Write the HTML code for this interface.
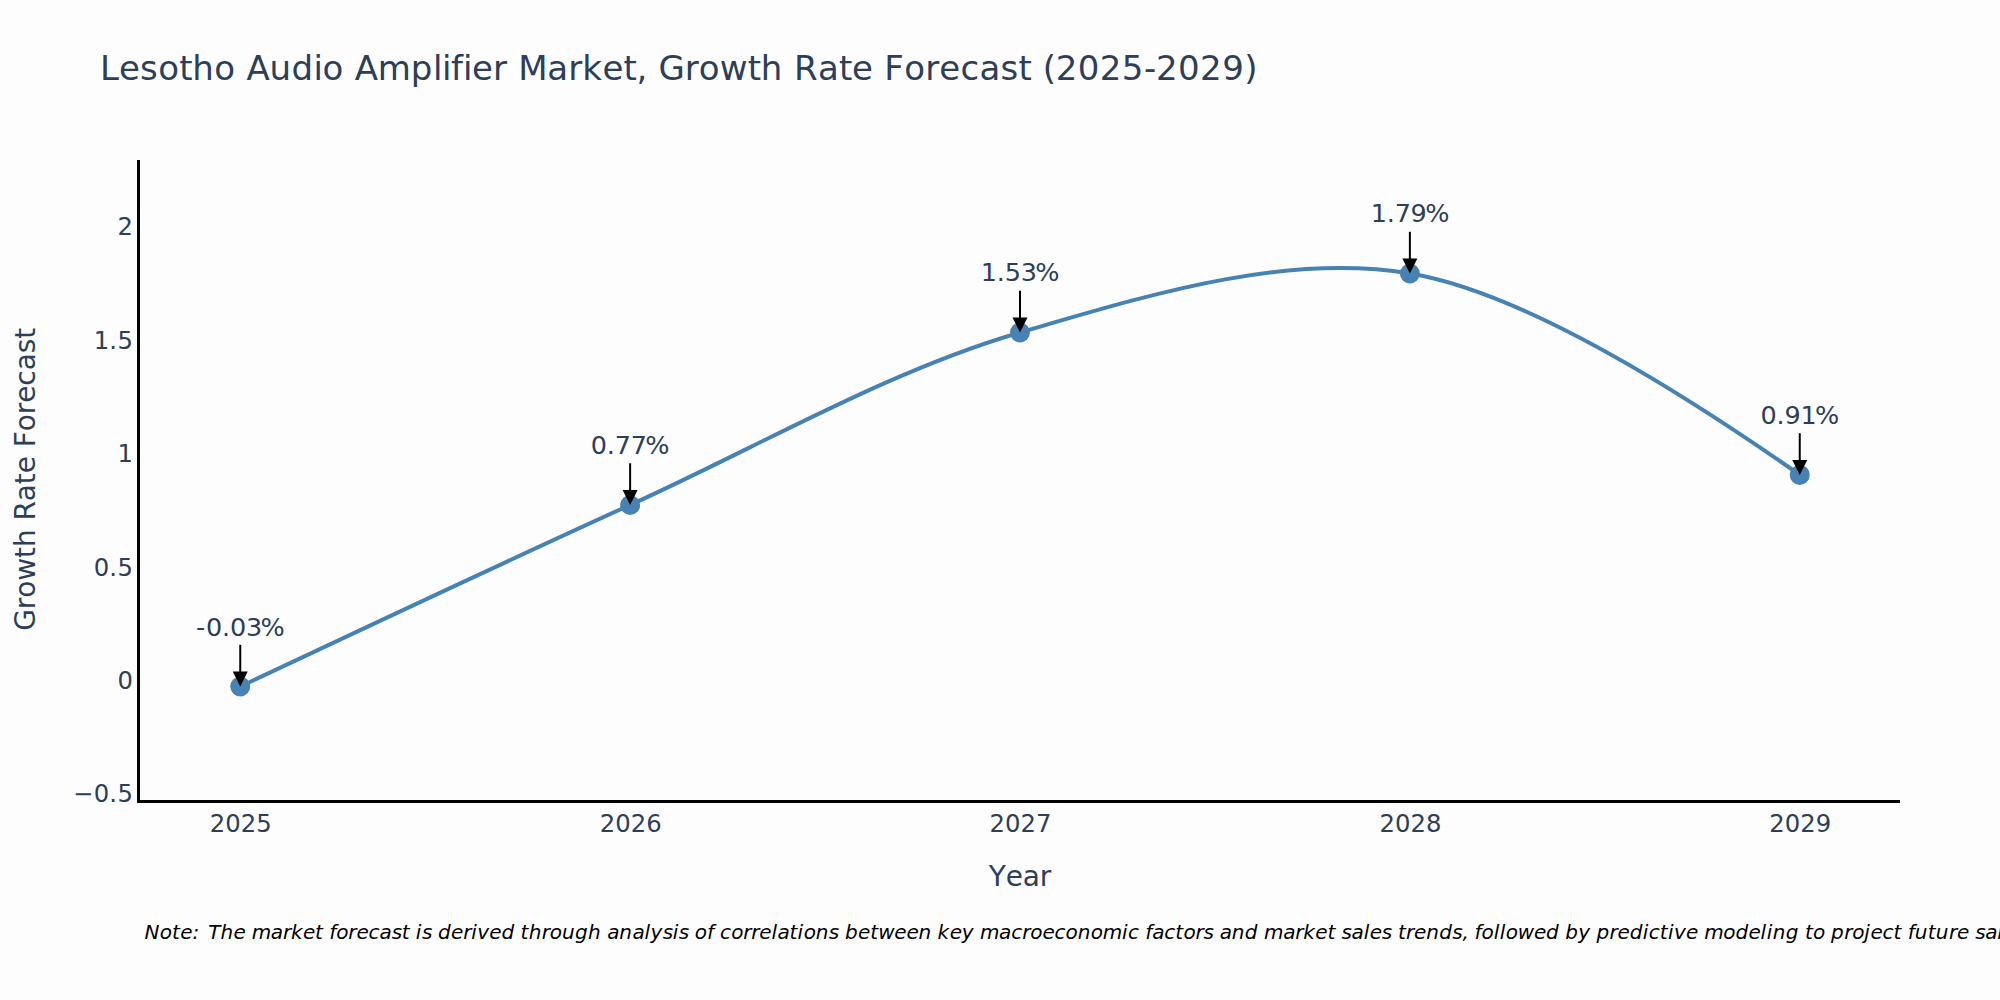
<!DOCTYPE html>
<html lang="en">
<head>
<meta charset="utf-8">
<title>Lesotho Audio Amplifier Market, Growth Rate Forecast (2025-2029)</title>
<style>
html,body{margin:0;padding:0;background:#fdfdfd;width:2000px;height:1000px;overflow:hidden}
svg{display:block}
text{font-family:"DejaVu Sans","Liberation Sans",sans-serif;fill:#2d3e59;white-space:pre;font-kerning:none;font-variant-ligatures:none}
.tick{font-size:24.3px}
.ann{font-size:25.5px}
.axt{font-size:28px}
.title{font-size:34px}
.note{font-size:20px;font-style:italic;fill:#000}
</style>
</head>
<body>
<svg width="2000" height="1000" viewBox="0 0 2000 1000">
<rect width="2000" height="1000" fill="#fdfdfd"/>
<!-- title -->
<text class="title" x="100 119.05 140.11 158.16 179.22 192.26 214.32 235.38 246.41 269.47 291.53 313.6 322.62 343.68 354.71 377.78 410.87 432.93 441.95 450.98 463.01 472.04 493.1 507.14 518.17 547.25 568.31 582.35 602.4 623.46 636.5 647.53 658.56 684.63 698.67 719.73 747.81 760.85 782.91 793.94 818 839.06 852.1 873.16 884.19 904.25 925.3 939.34 960.4 979.46 1000.51 1018.56 1031.6 1042.63 1055.67 1077.73 1099.79 1121.85 1143.91 1155.95 1178.01 1200.07 1222.13 1244.19" y="80">Lesotho Audio Amplifier Market, Growth Rate Forecast (2025-2029)</text>
<!-- axis lines -->
<rect x="137" y="160" width="3" height="643" fill="#000"/>
<rect x="137" y="800" width="1763" height="3" fill="#000"/>
<!-- y tick labels -->
<text class="tick" x="117.5" y="235.12">2</text>
<text class="tick" x="93.75 109.24 117.51" y="348.59">1.5</text>
<text class="tick" x="117.5" y="462.07">1</text>
<text class="tick" x="93.75 109.24 117.51" y="575.54">0.5</text>
<text class="tick" x="117.5" y="689.02">0</text>
<text class="tick" x="73.09 93.75 109.24 117.51" y="802.49">−0.5</text>
<!-- x tick labels -->
<text class="tick" x="209.81 225.31 240.8 256.3" y="832">2025</text>
<text class="tick" x="599.68 615.18 630.67 646.17" y="832">2026</text>
<text class="tick" x="989.56 1005.05 1020.55 1036.04" y="832">2027</text>
<text class="tick" x="1379.43 1394.93 1410.42 1425.92" y="832">2028</text>
<text class="tick" x="1769.31 1784.8 1800.3 1815.79" y="832">2029</text>
<!-- axis titles -->
<text class="axt" x="988.8 1005.8 1022.8 1039.8" y="886">Year</text>
<g transform="translate(35,479.3) rotate(-90)">
<text class="axt" x="-151.42 -129.86 -118.42 -101.39 -78.62 -67.71 -50.07 -41.22 -21.89 -4.83 6.08 23.2 32.05 48.06 65.09 76.53 93.65 108.96 126.01 140.51" y="0">Growth Rate Forecast</text>
</g>
<!-- series -->
<path d="M240.25,686.52Q499.88,564.09 630.12,504.96C759.80,446.09 887.41,371.09 1020.00,332.48C1147.52,295.35 1283.21,252.60 1409.88,273.48Q1543.50,295.50 1799.75,474.89" fill="none" stroke="#4682b4" stroke-width="4"/>
<g fill="#4682b4">
<circle cx="240.25" cy="686.52" r="10"/>
<circle cx="630.12" cy="504.96" r="10"/>
<circle cx="1020.00" cy="332.48" r="10"/>
<circle cx="1409.88" cy="273.48" r="10"/>
<circle cx="1799.75" cy="474.89" r="10"/>
</g>
<!-- annotations -->
<g transform="translate(240.25,635.52) scale(1,0.98)">
<text class="ann" x="-44.25 -34.25 -18.25 -10.25 5.75 20.25" y="0">-0.03%</text>
</g>
<path d="M240.25,644.82V672.52" stroke="#000" stroke-width="2" fill="none"/>
<path d="M240.25,686.52L232.75,671.52L247.75,671.52Z" fill="#000"/>
<g transform="translate(630.12,453.96) scale(1,0.98)">
<text class="ann" x="-39.25 -23.25 -15.25 0.75 15.25" y="0">0.77%</text>
</g>
<path d="M630.12,463.26V490.96" stroke="#000" stroke-width="2" fill="none"/>
<path d="M630.12,504.96L622.62,489.96L637.62,489.96Z" fill="#000"/>
<g transform="translate(1020,281.48) scale(1,0.98)">
<text class="ann" x="-39.25 -23.25 -15.25 0.75 15.25" y="0">1.53%</text>
</g>
<path d="M1020.00,290.78V318.48" stroke="#000" stroke-width="2" fill="none"/>
<path d="M1020.00,332.48L1012.50,317.48L1027.50,317.48Z" fill="#000"/>
<g transform="translate(1409.88,222.48) scale(1,0.98)">
<text class="ann" x="-39.25 -23.25 -15.25 0.75 15.25" y="0">1.79%</text>
</g>
<path d="M1409.88,231.78V259.48" stroke="#000" stroke-width="2" fill="none"/>
<path d="M1409.88,273.48L1402.38,258.48L1417.38,258.48Z" fill="#000"/>
<g transform="translate(1799.75,423.89) scale(1,0.98)">
<text class="ann" x="-39.25 -23.25 -15.25 0.75 15.25" y="0">0.91%</text>
</g>
<path d="M1799.75,433.19V460.89" stroke="#000" stroke-width="2" fill="none"/>
<path d="M1799.75,474.89L1792.25,459.89L1807.25,459.89Z" fill="#000"/>
<!-- footnote -->
<text class="note" x="144.5 159.8 172.04 180.2 192.44" y="939.2">Note:</text>
<text class="note" x="208.34 220.43 233.52 245.61 251.65 270.79 282.88 290.94 303.02 315.11 323.17 329.21 336.27 348.35 356.41 368.5 379.58 391.67 401.74 409.8 415.84 421.89 431.96 438 451.1 463.18 471.24 477.29 489.37 501.46 514.56 520.6 528.66 541.75 549.81 561.9 575 588.09 601.19 607.23 619.32 632.41 644.5 650.54 662.63 672.7 678.75 688.82 694.86 706.95 714 720.05 731.13 743.21 751.27 759.33 771.42 777.46 789.55 797.61 803.65 815.74 828.83 838.91 844.95 858.05 870.13 878.19 894.31 906.4 918.48 931.58 937.62 949.71 961.8 973.89 979.93 999.07 1011.16 1022.24 1030.29 1042.38 1054.47 1065.55 1077.64 1090.73 1102.82 1121.96 1128 1139.08 1145.13 1152.18 1164.27 1175.35 1183.4 1195.49 1203.55 1213.62 1219.67 1231.75 1244.85 1257.94 1263.99 1283.13 1295.21 1303.27 1315.36 1327.45 1335.51 1341.55 1351.62 1363.71 1369.75 1381.84 1391.92 1397.96 1406.02 1414.08 1426.16 1439.26 1452.35 1462.43 1468.47 1474.51 1481.57 1493.65 1499.7 1505.74 1517.83 1533.94 1546.03 1559.13 1565.17 1578.27 1590.35 1596.4 1609.49 1617.55 1629.64 1642.73 1648.78 1659.86 1667.92 1673.96 1686.05 1698.13 1704.18 1723.32 1735.4 1748.5 1760.59 1766.63 1772.67 1785.77 1798.86 1804.91 1812.97 1825.05 1831.1 1844.19 1852.25 1864.34 1870.38 1882.47 1893.55 1901.61 1907.65 1914.7 1927.8 1935.86 1948.95 1957.01 1969.1 1975.14 1985.22 1997.3 2003.35 2015.43 2025.51" y="939.2">The market forecast is derived through analysis of correlations between key macroeconomic factors and market sales trends, followed by predictive modeling to project future sales.</text>
</svg>
</body>
</html>
